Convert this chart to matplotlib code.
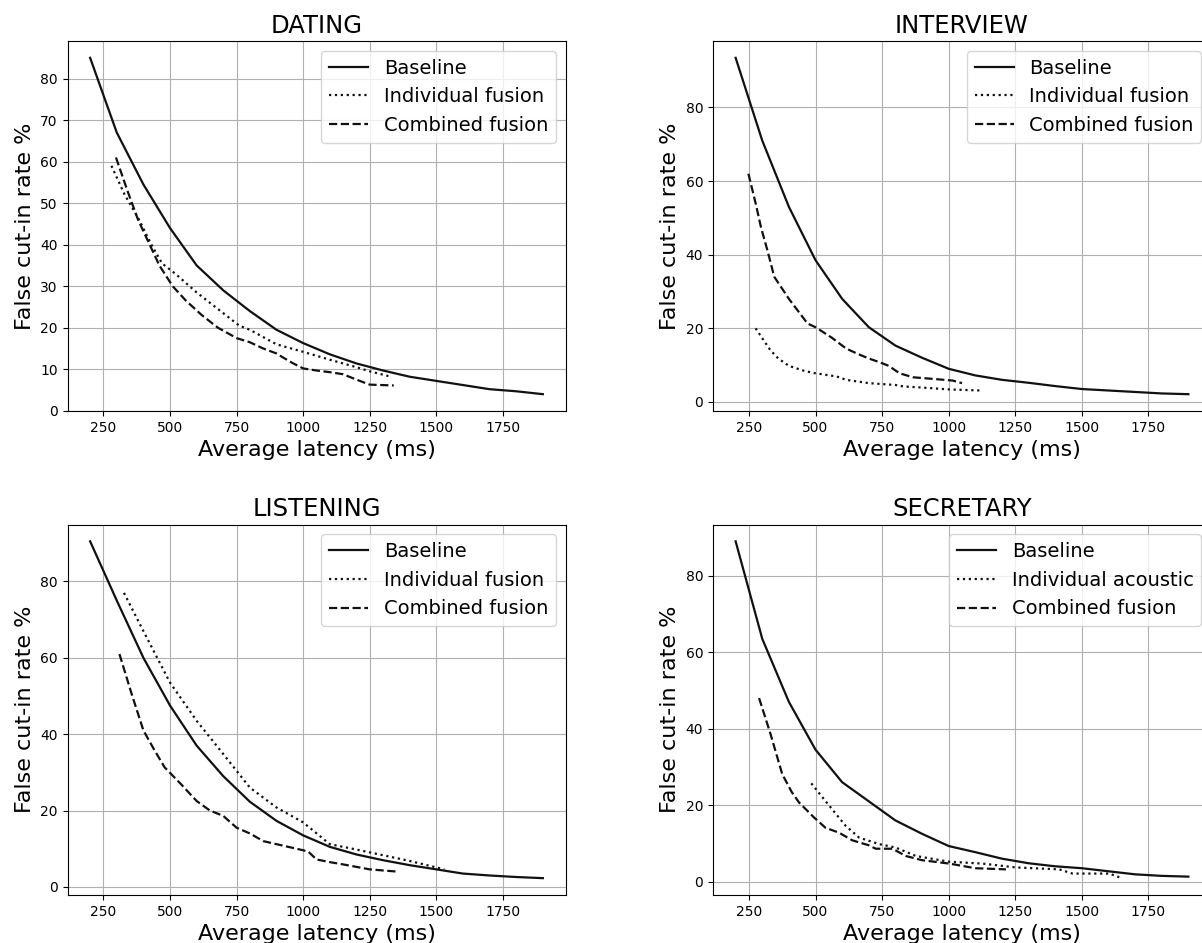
import matplotlib.pyplot as plt

# latency grid used by the baseline curves (ms)
base_x = [200, 300, 400, 500, 600, 700, 800, 900, 1000,
          1100, 1200, 1300, 1400, 1500, 1600, 1700, 1800, 1900]

# DATING
dating_base = [85, 67, 54.5, 44, 35, 29, 24, 19.5, 16.3,
               13.6, 11.4, 9.7, 8.2, 7.2, 6.2, 5.2, 4.7, 4.0]
dating_ind_x = [280, 330, 380, 430, 470, 520, 600, 700, 760, 800, 900, 1000, 1100, 1200, 1250, 1330]
dating_ind_y = [59, 52, 46.5, 40, 35.5, 33, 28.5, 23.5, 20.5, 19.5, 16, 14.2, 12.3, 10.5, 9.5, 8.2]
dating_comb_x = [297, 340, 380, 420, 460, 510, 560, 620, 680, 750, 800, 850, 900, 920,
                 960, 1000, 1050, 1100, 1150, 1200, 1250, 1340]
dating_comb_y = [61, 53, 46, 40.5, 35, 30, 26.5, 23, 20, 17.5, 16.5, 15, 13.8, 13,
                 11.5, 10.2, 9.7, 9.3, 8.8, 7.5, 6.3, 6.1]

# INTERVIEW
interview_base = [93.5, 71, 53, 38.5, 28, 20.3, 15.3, 12, 9,
                  7.2, 6, 5.2, 4.3, 3.5, 3.1, 2.7, 2.3, 2.1]
interview_ind_x = [275, 300, 330, 360, 400, 450, 490, 580, 615, 700, 800, 830, 900, 1000, 1120]
interview_ind_y = [20, 17.3, 14.1, 11.8, 9.8, 8.6, 7.9, 6.9, 6.0, 5.1, 4.6, 4.2, 3.9, 3.4, 3.1]
interview_comb_x = [248, 275, 295, 320, 345, 400, 470, 500, 560, 615, 660, 700, 740, 775,
                    815, 865, 950, 1015, 1050]
interview_comb_y = [62, 54, 47.5, 41, 34, 28, 21.3, 20.3, 17.5, 14.5, 13, 11.8, 10.8, 9.8,
                    7.8, 6.7, 6.2, 5.8, 5.1]

# LISTENING
listening_base = [90.5, 75, 60, 47.5, 37, 29, 22.3, 17.3, 13.5,
                  10.5, 8.5, 7, 5.7, 4.6, 3.5, 3.0, 2.6, 2.3]
listening_ind_x = [327, 400, 500, 600, 700, 800, 900, 1000, 1100, 1200, 1300, 1400, 1530]
listening_ind_y = [77, 67, 53.5, 43.5, 34.8, 26, 20.8, 16.9, 11.2, 9.8, 8.3, 6.8, 4.6]
listening_comb_x = [310, 356, 400, 440, 480, 540, 600, 650, 675, 700, 750, 800, 850, 900,
                    1000, 1020, 1050, 1100, 1150, 1250, 1356]
listening_comb_y = [61, 50.5, 41, 36, 31.3, 27, 22.5, 20, 19.3, 18.6, 15.5, 14, 12, 11.2,
                    9.6, 9.2, 7.2, 6.5, 5.9, 4.6, 4.0]

# SECRETARY
secretary_base = [89, 63.5, 47, 34.5, 26, 21, 16, 12.5, 9.3,
                  7.7, 6, 4.8, 4, 3.5, 2.7, 1.9, 1.5, 1.3]
secretary_ind_x = [484, 537, 613, 664, 739, 801, 877, 1002, 1128, 1253, 1415, 1465, 1603, 1650]
secretary_ind_y = [25.7, 21.1, 14.6, 11.5, 9.8, 8.9, 6.7, 5.2, 4.7, 3.7, 3.2, 2.1, 2.1, 0.9]
secretary_comb_x = [288, 331, 375, 410, 438, 494, 537, 588, 638, 700, 726, 789, 839, 900,
                    1003, 1052, 1100, 1215]
secretary_comb_y = [48, 38.6, 28.1, 23.5, 20.7, 16.8, 14.1, 12.8, 10.8, 9.5, 8.6, 8.6, 6.7, 5.6,
                    4.7, 4.1, 3.5, 3.2]

x_ticks = [250, 500, 750, 1000, 1250, 1500, 1750]

W, H = 1202, 943
fig = plt.figure(figsize=(W / 100, H / 100), dpi=100)


def make_axes(left, top, right, bottom):
    # pixel box -> figure fraction (right column runs past the image edge)
    return fig.add_axes([left / W, 1 - bottom / H, (right - left) / W, (bottom - top) / H])


panels = [
    ("DATING", (67.5, 41, 565.5, 411), dating_base, dating_ind_x, dating_ind_y,
     dating_comb_x, dating_comb_y, "Individual fusion", range(0, 81, 10)),
    ("INTERVIEW", (713, 41, 1211, 411), interview_base, interview_ind_x, interview_ind_y,
     interview_comb_x, interview_comb_y, "Individual fusion", range(0, 81, 20)),
    ("LISTENING", (67.5, 524.5, 565.5, 895), listening_base, listening_ind_x, listening_ind_y,
     listening_comb_x, listening_comb_y, "Individual fusion", range(0, 81, 20)),
    ("SECRETARY", (713, 524.5, 1211, 895), secretary_base, secretary_ind_x, secretary_ind_y,
     secretary_comb_x, secretary_comb_y, "Individual acoustic", range(0, 81, 20)),
]

for title, box, base_y, ind_x, ind_y, comb_x, comb_y, ind_label, y_ticks in panels:
    ax = make_axes(*box)
    ax.plot(base_x, base_y, color="#111111", lw=1.6, ls="-", label="Baseline")
    ax.plot(ind_x, ind_y, color="#111111", lw=1.6, ls=":", label=ind_label)
    ax.plot(comb_x, comb_y, color="#111111", lw=1.6, ls="--", label="Combined fusion")
    ax.set_xticks(x_ticks)
    ax.set_yticks(list(y_ticks))
    ax.tick_params(labelsize=10)
    ax.grid(True, color="#b0b0b0", lw=0.8)
    ax.set_axisbelow(True)
    ax.set_title(title, fontsize=17.5)
    ax.set_xlabel("Average latency (ms)", fontsize=16)
    ax.set_ylabel("False cut-in rate %", fontsize=16)
    ax.legend(loc="upper right", fontsize=14)

fig.savefig("out.png", dpi=100)
